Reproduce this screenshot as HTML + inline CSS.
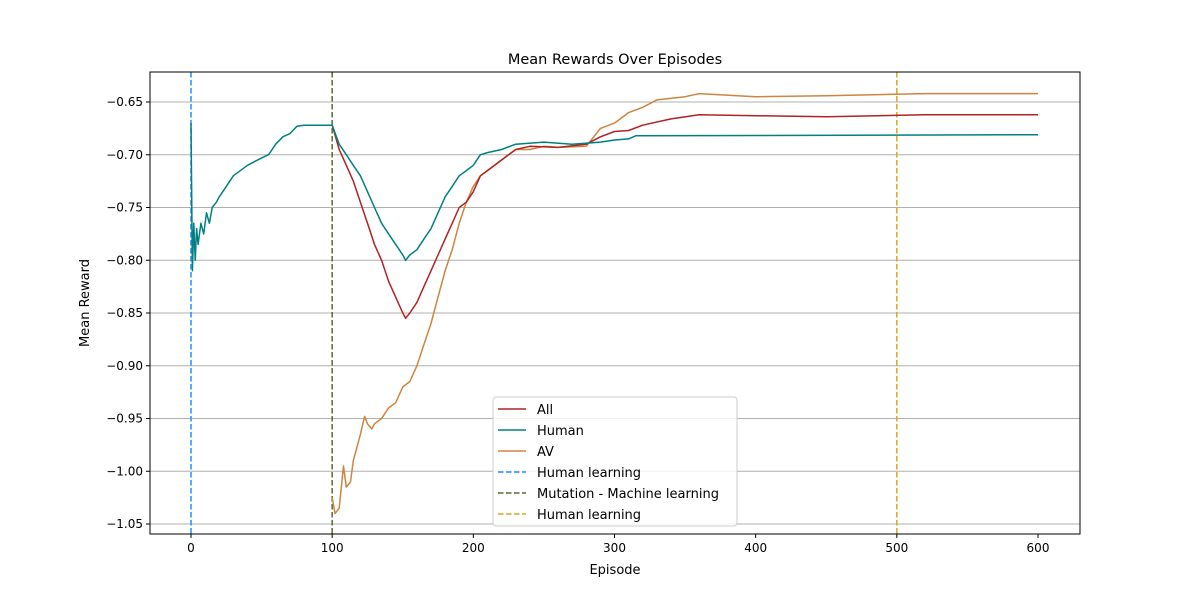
<!DOCTYPE html>
<html><head><meta charset="utf-8"><style>
body{margin:0;background:#fff;font-family:"Liberation Sans","DejaVu Sans",sans-serif}
svg text{font-family:"DejaVu Sans","Liberation Sans",sans-serif}
</style></head><body>
<svg id="c" width="1200" height="600" xmlns="http://www.w3.org/2000/svg"></svg>
<script>
const humanX=[0,1,2,3,4,5,7,9,11,13,15,18,20,25,30,40,50,55,60,65,70,75,80,100,105,110,115,120,125,130,135,140,145,150,152,155,160,165,170,175,180,185,190,195,200,205,210,220,230,250,270,290,300,310,315,600];
const humanY=[-0.67,-0.81,-0.765,-0.80,-0.77,-0.785,-0.765,-0.775,-0.755,-0.765,-0.75,-0.745,-0.74,-0.73,-0.72,-0.71,-0.703,-0.70,-0.69,-0.683,-0.68,-0.673,-0.672,-0.672,-0.69,-0.70,-0.71,-0.72,-0.735,-0.75,-0.765,-0.775,-0.785,-0.795,-0.80,-0.795,-0.79,-0.78,-0.77,-0.755,-0.74,-0.73,-0.72,-0.715,-0.71,-0.70,-0.698,-0.695,-0.69,-0.688,-0.69,-0.688,-0.686,-0.685,-0.682,-0.681];
const allX=[100,105,110,115,120,125,130,135,140,145,150,152,155,160,165,170,175,180,185,190,195,200,205,210,220,230,240,260,280,290,300,310,320,340,360,400,450,520,600];
const allY=[-0.672,-0.695,-0.71,-0.725,-0.745,-0.765,-0.785,-0.80,-0.82,-0.835,-0.85,-0.855,-0.85,-0.84,-0.825,-0.81,-0.795,-0.78,-0.765,-0.75,-0.745,-0.735,-0.72,-0.715,-0.705,-0.695,-0.692,-0.693,-0.69,-0.683,-0.678,-0.677,-0.672,-0.666,-0.662,-0.663,-0.664,-0.662,-0.662];
const avX=[100,102,105,108,110,113,115,118,120,123,125,128,130,135,140,145,150,155,160,165,170,175,180,185,190,195,200,205,210,220,230,240,250,260,280,290,300,310,320,330,350,360,400,450,520,600];
const avY=[-1.025,-1.04,-1.035,-0.995,-1.015,-1.01,-0.99,-0.975,-0.965,-0.948,-0.955,-0.96,-0.955,-0.95,-0.94,-0.935,-0.92,-0.915,-0.90,-0.88,-0.86,-0.835,-0.81,-0.79,-0.765,-0.745,-0.73,-0.72,-0.715,-0.705,-0.695,-0.695,-0.692,-0.693,-0.692,-0.675,-0.67,-0.66,-0.655,-0.648,-0.645,-0.642,-0.645,-0.644,-0.642,-0.642];
const xTicks=[0,100,200,300,400,500,600];
const yTicks=[-0.65,-0.70,-0.75,-0.80,-0.85,-0.90,-0.95,-1.00,-1.05];
const vlinesX=[0,100,500];
const L=150,R=1080,T=72,B=534;
const sx=v=>191+(v-0)*(1038-191)/600;
const sy=v=>102+(-0.65-v)*(524-102)/0.40;
const svg=document.getElementById('c');
const NS='http://www.w3.org/2000/svg';
function mk(tag,attrs,txt){const e=document.createElementNS(NS,tag);for(const k in attrs)e.setAttribute(k,attrs[k]);if(txt!==undefined)e.textContent=txt;svg.appendChild(e);return e;}
let e;
e=mk('rect',{x:L,y:T,width:R-L,height:B-T,fill:'#fff'});


yTicks.forEach(v=>{
 e=mk('line',{x1:L,x2:R,y1:sy(v),y2:sy(v),stroke:'#b0b0b0','stroke-width':1});
 
 
 mk('line',{x1:L-4,x2:L,y1:sy(v),y2:sy(v),stroke:'#000'});
 e=mk('text',{x:L-7,y:sy(v)+4,'text-anchor':'end','font-size':12},v.toFixed(2).replace('-','−'));
 
 
});
xTicks.forEach(v=>{
 mk('line',{x1:sx(v),x2:sx(v),y1:B,y2:B+4,stroke:'#000'});
 e=mk('text',{x:sx(v),y:B+18,'text-anchor':'middle','font-size':12},String(v));
 
 
});
const vcol=['#1e90ff','#556b2f','#daa520'];
vlinesX.forEach((v,i)=>{
 e=mk('line',{x1:sx(v),x2:sx(v),y1:T,y2:B,stroke:vcol[i],'stroke-width':1.5,'stroke-dasharray':'5.5,2.5'});
 
 
});
function series(xs,ys,col,name){
 const d=xs.map((x,i)=>(i?'L':'M')+sx(x).toFixed(1)+','+sy(ys[i]).toFixed(1)).join('');
 e=mk('path',{d:d,fill:'none',stroke:col,'stroke-width':1.5,'stroke-linejoin':'round'});
 
 
}
series(avX,avY,'#cd853f','av-line');
series(allX,allY,'#b22222','all-line');
series(humanX,humanY,'#008080','human-line');
mk('rect',{x:L,y:T,width:R-L,height:B-T,fill:'none',stroke:'#000','stroke-width':1});
e=mk('text',{x:615,y:64,'text-anchor':'middle','font-size':14.5},'Mean Rewards Over Episodes');


e=mk('text',{x:615,y:574,'text-anchor':'middle','font-size':13},'Episode');


e=mk('text',{x:89,y:303,'text-anchor':'middle','font-size':13,transform:'rotate(-90 89 303)'},'Mean Reward');


e=mk('rect',{x:493,y:397,width:244,height:129,rx:3,fill:'#fff','fill-opacity':0.85,stroke:'#ccc'});


const leg=[['All','#b22222',0],['Human','#008080',0],['AV','#cd853f',0],['Human learning','#1e90ff',1],['Mutation - Machine learning','#556b2f',1],['Human learning','#daa520',1]];
leg.forEach((l,i)=>{
 const y=409+i*21;
 const a={x1:498,x2:526,y1:y,y2:y,stroke:l[1],'stroke-width':1.5};
 if(l[2])a['stroke-dasharray']='5.5,2.5';
 mk('line',a);
 e=mk('text',{x:537,y:y+5,'font-size':13},l[0]);
 
 
});
</script>
</body></html>
